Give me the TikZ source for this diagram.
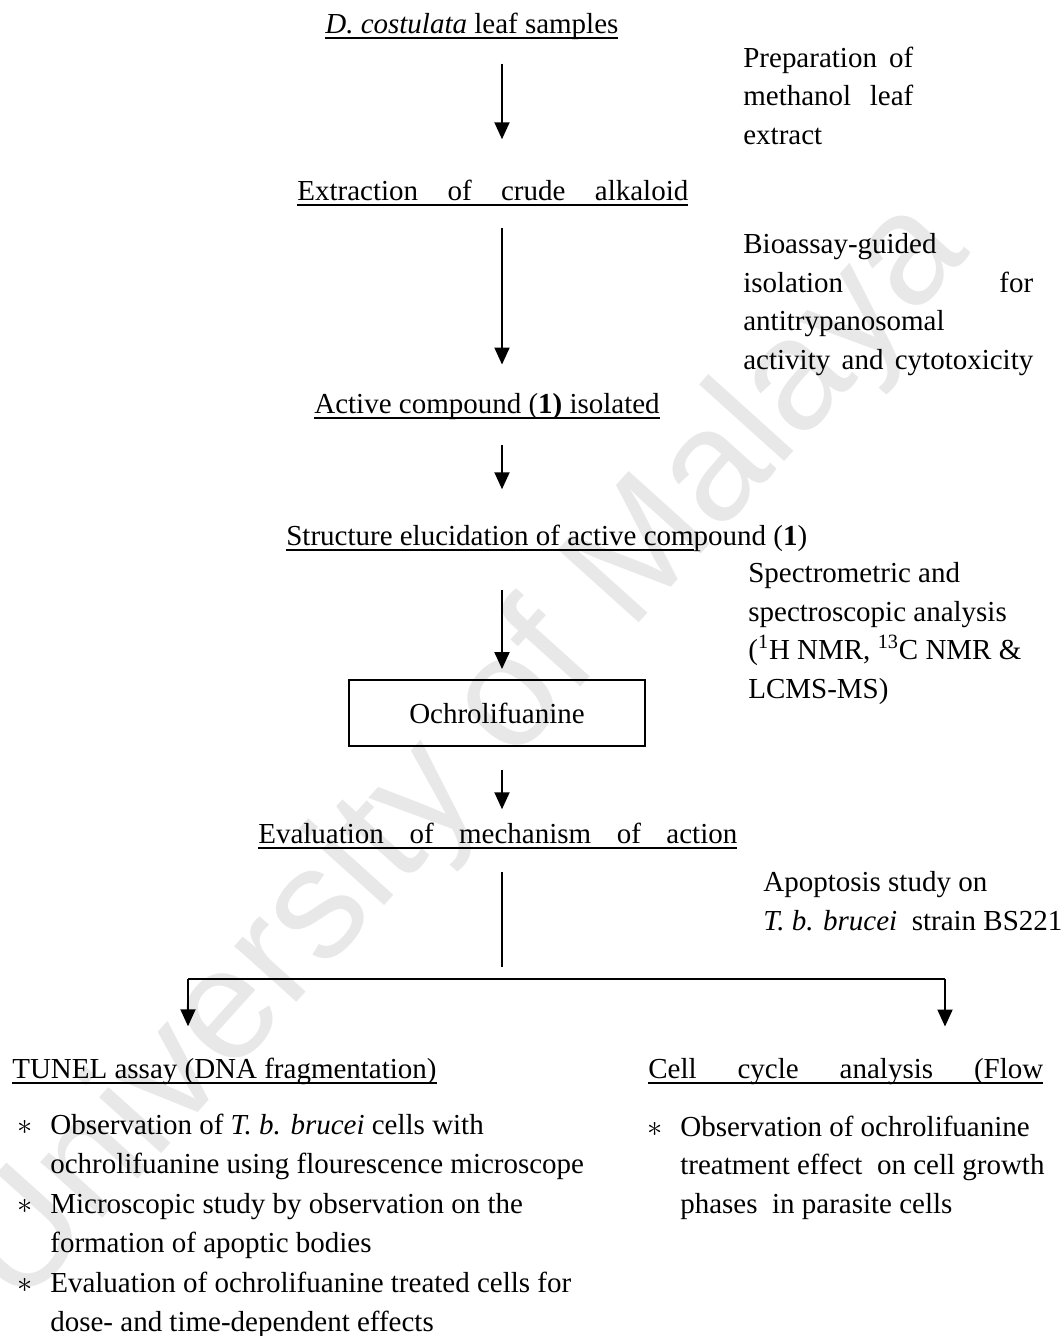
\documentclass[tikz,border=0pt]{standalone}
\usepackage{fontspec}
\setmainfont{Liberation Serif}
\newfontfamily\wmfont{Liberation Sans}
\usetikzlibrary{arrows.meta}
\newcommand{\undl}[1]{\setbox0\hbox{#1}\rlap{\rule[-3.3pt]{\wd0}{0.8pt}}\box0}
\newcommand{\jline}[2]{\makebox[#1][s]{#2}}
\begin{document}
\begin{tikzpicture}[x=0.02cm, y=-0.02cm,
  every node/.style={inner sep=0pt, font=\fontsize{16.5}{21.9}\selectfont},
  arr/.style={-{Triangle[length=0.34cm,width=0.3cm]}, line width=1.1pt},
  thinline/.style={line width=0.9pt}]
\useasboundingbox (0,0) rectangle (1064,1336);
% Watermark
\node[rotate=48, text=black!9, font=\wmfont\fontsize{90}{90}\selectfont] (wmark) at (465,755) {University of Malaya};

% Steps
\node[anchor=base west] (samples) at (325,33) {\undl{\textit{D. costulata} leaf samples}};
\node[anchor=base west] (extract) at (297,200) {\undl{\jline{7.82cm}{Extraction of crude alkaloid}}};
\node[anchor=base west] (active) at (314,413) {\undl{Active compound (\textbf{1)} isolated}};
\node[anchor=base west] (struct) at (286,545) {\undl{Structure elucidation of active com}pound (\textbf{1})};
\node[draw, line width=1.1pt, minimum width=5.92cm, minimum height=1.32cm] (ochro) at (497,713) {Ochrolifuanine};
\node[anchor=base west] (evalmech) at (258,843) {\undl{\jline{9.58cm}{Evaluation of mechanism of action}}};
\node[anchor=base west] (tunel) at (12,1078) {\undl{TUNEL assay (DNA fragmentation)}};
\node[anchor=base west] (cellcyc) at (648,1078) {\undl{\jline{7.9cm}{Cell cycle analysis (Flow}}};

% Side notes (anchored on the last line)
\node[anchor=base west, align=left] (prep) at (743,144) {\jline{3.4cm}{Preparation of}\\ \jline{3.4cm}{methanol leaf}\\ extract};
\node[anchor=base west, align=left] (bioassay) at (743,369) {Bioassay-guided\\ \jline{5.8cm}{isolation for}\\ antitrypanosomal\\ \jline{5.8cm}{activity and cytotoxicity}};
\node[anchor=base west, align=left] (spectro) at (748,698) {Spectrometric and\\ spectroscopic analysis\\ (\textsuperscript{1}H NMR, \textsuperscript{13}C NMR \&\\ LCMS-MS)};
\node[anchor=base west, align=left] (apopt) at (763,930) {Apoptosis study on\\ \textit{T. b. brucei}\ \ strain BS221};

% Bullet lists
\node[anchor=base west, align=left] (tunelA) at (50,1173) {\llap{\makebox[0.66cm][l]{$\ast$}}Observation of \textit{T. b. brucei} cells with\\ ochrolifuanine using flourescence microscope};
\node[anchor=base west, align=left] (tunelB) at (50,1252) {\llap{\makebox[0.66cm][l]{$\ast$}}Microscopic study by observation on the\\ formation of apoptic bodies};
\node[anchor=base west, align=left] (tunelC) at (50,1331) {\llap{\makebox[0.66cm][l]{$\ast$}}Evaluation of ochrolifuanine treated cells for\\ dose- and time-dependent effects};
\node[anchor=base west, align=left] (cellA) at (680,1213) {\llap{\makebox[0.66cm][l]{$\ast$}}Observation of ochrolifuanine\\ treatment effect\ \ on cell growth\\ phases\ \ in parasite cells};

% Arrows
\coordinate (col) at (502,0);
\coordinate (split) at (502,979);
\coordinate (brL) at (188,979);
\coordinate (brR) at (945,979);
\draw[arr, shorten <=0.48cm, shorten >=0.8cm] (samples.south -| col) -- (extract.north -| col);
\draw[arr, shorten <=0.44cm, shorten >=0.56cm] (extract.south -| col) -- (active.north -| col);
\draw[arr, shorten <=0.51cm, shorten >=0.7cm] (active.south -| col) -- (struct.north -| col);
\draw[arr, shorten <=0.77cm, shorten >=0.2cm] (struct.south -| col) -- (ochro.north -| col);
\draw[arr, shorten <=0.46cm, shorten >=0.26cm] (ochro.south -| col) -- (evalmech.north -| col);
\draw[thinline, shorten <=0.46cm, shorten >=0.24cm] (evalmech.south -| col) -- (split);
\draw[thinline] (brL) -- (brR);
\draw[arr, shorten >=0.62cm] (brL) -- (tunel.north -| brL);
\draw[arr, shorten >=0.62cm] (brR) -- (cellcyc.north -| brR);
\end{tikzpicture}
\end{document}
